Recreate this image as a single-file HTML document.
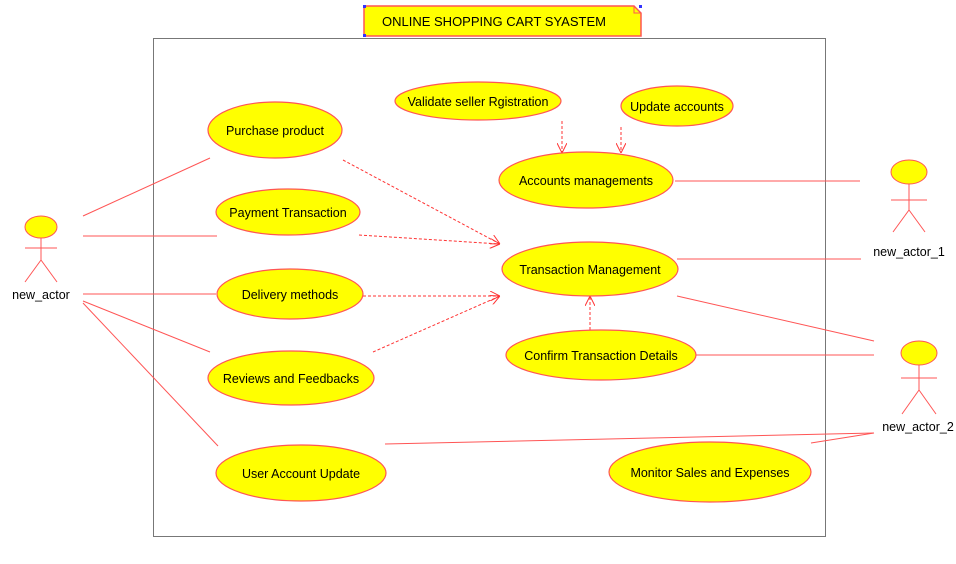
<!DOCTYPE html>
<html><head><meta charset="utf-8"><style>
html,body{margin:0;padding:0;background:#fff;}
svg{display:block;}
text{font-family:"Liberation Sans",sans-serif;font-size:12.5px;fill:#000;}
</style></head><body>
<svg width="956" height="564" viewBox="0 0 956 564" xmlns="http://www.w3.org/2000/svg">
<defs>
<marker id="ar" viewBox="0 0 10 10" refX="10" refY="5" markerWidth="10" markerHeight="10" orient="auto" markerUnits="userSpaceOnUse">
<path d="M0,0 L10,5 L0,10" fill="none" stroke="#f33" stroke-width="1"/>
</marker>
</defs>
<path d="M364,6 H634 L641,13 V36 H364 Z" fill="#ffff00" stroke="#f55" stroke-width="1.5"/>
<path d="M634,6 V13 H641" fill="none" stroke="#f55"/>
<rect x="363" y="5" width="3" height="3" fill="#33f"/><rect x="363" y="34" width="3" height="3" fill="#33f"/><rect x="639" y="5" width="3" height="3" fill="#33f"/>
<text x="382" y="26" style="font-size:13px">ONLINE SHOPPING CART SYASTEM</text>
<rect x="153.5" y="38.5" width="672" height="498" fill="none" stroke="#777" stroke-width="1"/>
<g stroke="#f55" stroke-width="1" fill="none">
<line x1="83" y1="216" x2="210" y2="158"/>
<line x1="83" y1="236" x2="217" y2="236"/>
<line x1="83" y1="294" x2="216" y2="294"/>
<line x1="83" y1="301" x2="210" y2="352"/>
<line x1="83" y1="303" x2="218" y2="446"/>
<line x1="675" y1="181" x2="860" y2="181"/>
<line x1="677" y1="259" x2="861" y2="259"/>
<line x1="677" y1="296" x2="874" y2="341"/>
<line x1="696" y1="355" x2="874" y2="355"/>
<line x1="385" y1="444" x2="874" y2="433"/>
<line x1="811" y1="443" x2="874" y2="433"/>
</g>
<g stroke="#f33" stroke-width="1" fill="none" stroke-dasharray="3,2" marker-end="url(#ar)">
<line x1="343" y1="160" x2="500" y2="244"/>
<line x1="359" y1="235" x2="500" y2="244"/>
<line x1="363" y1="296" x2="500" y2="296"/>
<line x1="373" y1="352" x2="500" y2="296"/>
<line x1="562" y1="121" x2="562" y2="153"/>
<line x1="621" y1="127" x2="621" y2="153"/>
<line x1="590" y1="330" x2="590" y2="296"/>
</g>
<g fill="#ffff00" stroke="#f55" stroke-width="1.2">
<ellipse cx="275" cy="130" rx="67" ry="28"/>
<ellipse cx="288" cy="212" rx="72" ry="23"/>
<ellipse cx="290" cy="294" rx="73" ry="25"/>
<ellipse cx="291" cy="378" rx="83" ry="27"/>
<ellipse cx="301" cy="473" rx="85" ry="28"/>
<ellipse cx="478" cy="101" rx="83" ry="19"/>
<ellipse cx="677" cy="106" rx="56" ry="20"/>
<ellipse cx="586" cy="180" rx="87" ry="28"/>
<ellipse cx="590" cy="269" rx="88" ry="27"/>
<ellipse cx="601" cy="355" rx="95" ry="25"/>
<ellipse cx="710" cy="472" rx="101" ry="30"/>
</g>
<g text-anchor="middle">
<text x="275" y="135">Purchase product</text>
<text x="288" y="217">Payment Transaction</text>
<text x="290" y="299">Delivery methods</text>
<text x="291" y="383">Reviews and Feedbacks</text>
<text x="301" y="478">User Account Update</text>
<text x="478" y="106">Validate seller Rgistration</text>
<text x="677" y="111">Update accounts</text>
<text x="586" y="185">Accounts managements</text>
<text x="590" y="274">Transaction Management</text>
<text x="601" y="360">Confirm Transaction Details</text>
<text x="710" y="477">Monitor Sales and Expenses</text>
</g>
<g stroke="#f55" stroke-width="1" fill="none">
<ellipse cx="41" cy="227" rx="16" ry="11" fill="#ffff00"/>
<line x1="41" y1="238" x2="41" y2="260"/><line x1="25" y1="248" x2="57" y2="248"/>
<line x1="41" y1="260" x2="25" y2="282"/><line x1="41" y1="260" x2="57" y2="282"/>
<ellipse cx="909" cy="172" rx="18" ry="12" fill="#ffff00"/>
<line x1="909" y1="184" x2="909" y2="210"/><line x1="891" y1="200" x2="927" y2="200"/>
<line x1="909" y1="210" x2="893" y2="232"/><line x1="909" y1="210" x2="925" y2="232"/>
<ellipse cx="919" cy="353" rx="18" ry="12" fill="#ffff00"/>
<line x1="919" y1="365" x2="919" y2="390"/><line x1="901" y1="378" x2="937" y2="378"/>
<line x1="919" y1="390" x2="902" y2="414"/><line x1="919" y1="390" x2="936" y2="414"/>
</g>
<g text-anchor="middle">
<text x="41" y="299">new_actor</text>
<text x="909" y="256">new_actor_1</text>
<text x="918" y="431">new_actor_2</text>
</g>
</svg>
</body></html>
